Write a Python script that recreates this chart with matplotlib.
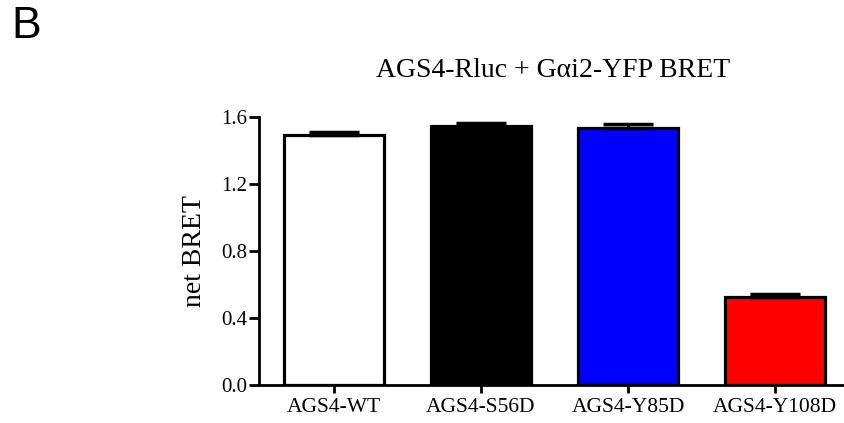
import matplotlib
matplotlib.use("Agg")
import matplotlib.pyplot as plt

categories = ["AGS4-WT", "AGS4-S56D", "AGS4-Y85D", "AGS4-Y108D"]
values = [1.493, 1.546, 1.536, 0.527]
errors = [0.017, 0.018, 0.024, 0.014]
colors = ["#ffffff", "#000000", "#0000ff", "#ff0000"]
yticks = [0.0, 0.4, 0.8, 1.2, 1.6]

serif = ["Liberation Serif", "DejaVu Serif"]

fig = plt.figure(figsize=(8.45, 4.23), dpi=100)
ax = fig.add_axes([0.3065, 0.0898, 0.6935, 0.6336])

x = list(range(len(categories)))
ax.bar(x, values, width=0.68, color=colors, edgecolor="black", linewidth=2.3, zorder=2)
ax.errorbar(x, values, yerr=[[0] * len(errors), errors], fmt="none", ecolor="black",
            elinewidth=2, capsize=18, capthick=2.5, zorder=3)

ax.set_xlim(-0.51, 3.476)
ax.set_ylim(0, 1.6)
ax.set_yticks(yticks)
ax.set_yticklabels([f"{t:.1f}" for t in yticks], fontfamily=serif, fontsize=15)
ax.set_xticks(x)
ax.set_xticklabels(categories, fontfamily=serif, fontsize=15.5)
ax.spines["top"].set_visible(False)
ax.spines["right"].set_visible(False)
ax.spines["left"].set_linewidth(2)
ax.spines["bottom"].set_linewidth(2)
ax.tick_params(axis="y", direction="out", length=7.5, width=2, pad=1)
ax.tick_params(axis="x", direction="out", length=6, width=2, pad=3)

ax.set_ylabel("net BRET", fontfamily=serif, fontsize=20, labelpad=10)
fig.text(0.654, 0.834, "AGS4-Rluc + G\u03b1i2-YFP BRET", fontfamily=serif, fontsize=20,
         ha="center", va="center")
fig.text(0.014, 0.937, "B", fontfamily=["Liberation Sans", "DejaVu Sans"], fontsize=32,
         ha="left", va="center")

fig.savefig("out.png", dpi=100)
